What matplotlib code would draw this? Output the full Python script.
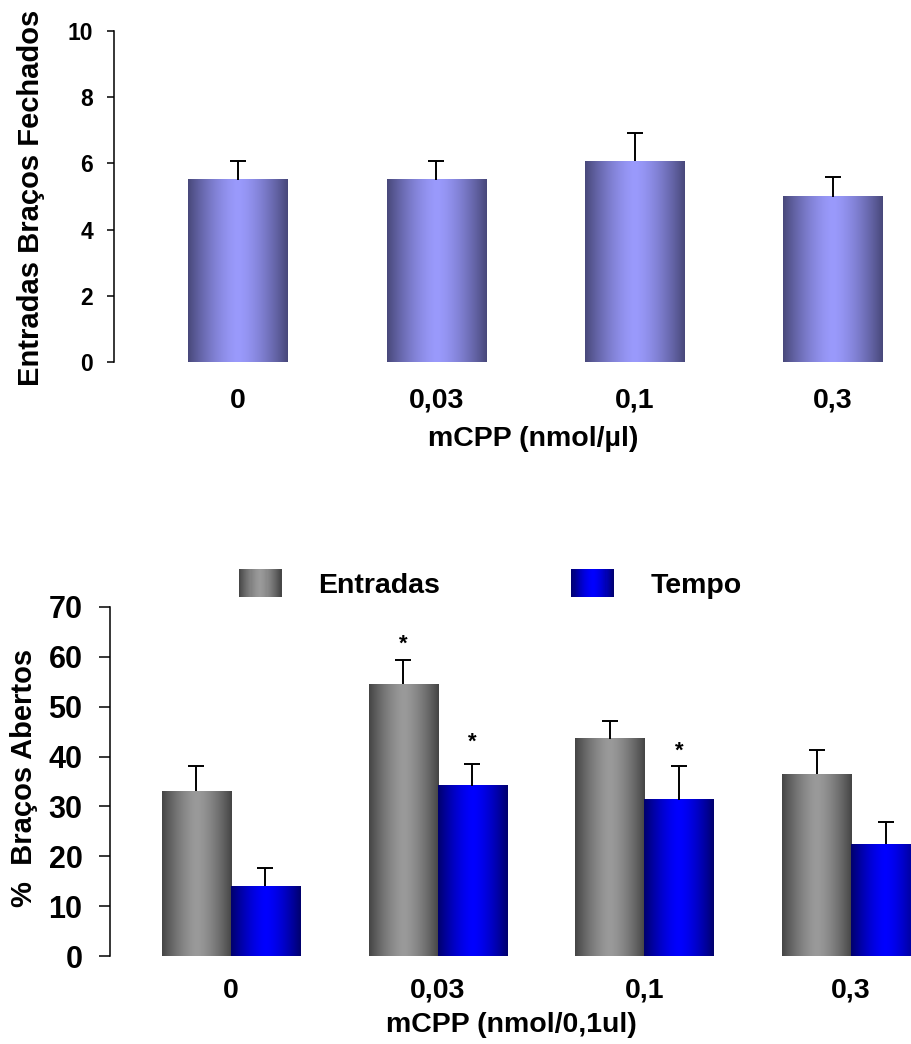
import numpy as np
import matplotlib
matplotlib.use("Agg")
import matplotlib.pyplot as plt
from matplotlib.colors import LinearSegmentedColormap
from matplotlib.legend_handler import HandlerBase
from matplotlib.patches import Rectangle

plt.rcParams['font.family'] = ['Liberation Sans', 'DejaVu Sans']
plt.rcParams['font.weight'] = 'bold'

# ---------------- data ----------------
doses = ["0", "0,03", "0,1", "0,3"]

closed_entries = [5.5, 5.5, 6.07, 5.0]
closed_entries_err = [0.58, 0.58, 0.86, 0.60]

open_entries = [33.0, 54.5, 43.6, 36.5]
open_entries_err = [5.1, 4.8, 3.6, 4.8]
open_time = [14.0, 34.1, 31.3, 22.4]
open_time_err = [3.7, 4.4, 6.8, 4.5]

# significance marks: (group index, series, y level of the asterisk)
star_groups = [1, 1, 2]
star_series = ["Entradas", "Tempo", "Tempo"]
star_levels = [63.8, 44.3, 42.5]

series_names = ["Entradas", "Tempo"]
top_ylabel = "Entradas Braços Fechados"
top_xlabel = "mCPP (nmol/µl)"
bot_ylabel = "%  Braços Abertos"
bot_xlabel = "mCPP (nmol/0,1ul)"


def profile_cmap(dark, light, name):
    t = np.linspace(0, 1, 256)
    f = 1 - np.abs(2 * t - 1) ** 1.5
    d = np.array(dark) / 255.0
    l = np.array(light) / 255.0
    cols = d[None, :] + (l - d)[None, :] * f[:, None]
    return LinearSegmentedColormap.from_list(name, cols)


cmap_purple = profile_cmap((0x48, 0x48, 0x7a), (0x9a, 0x9a, 0xfc), "purp")
cmap_gray = profile_cmap((0x44, 0x44, 0x44), (0x9a, 0x9a, 0x9a), "gry")
cmap_blue = profile_cmap((0x00, 0x00, 0x6c), (0x00, 0x00, 0xff), "blu")

grad_row = np.linspace(0, 1, 256)[None, :]


def gradient_fill(ax, bars, cmap):
    for p in bars.patches:
        x, y = p.get_x(), p.get_y()
        w, h = p.get_width(), p.get_height()
        ax.imshow(grad_row, extent=[x, x + w, y, y + h], aspect='auto',
                  cmap=cmap, interpolation='bilinear', zorder=2.5,
                  clip_on=True)


def upper_errorbars(ax, xs, ys, errs):
    eb = ax.errorbar(xs, ys, yerr=[np.zeros(len(xs)), errs],
                     fmt='none', ecolor='black', elinewidth=1.4, capsize=5.5,
                     capthick=1.4, zorder=3)
    caps = eb[1]
    if len(caps) >= 2:
        caps[0].set_visible(False)  # hide the lower cap
    return eb


class GradHandler(HandlerBase):
    def __init__(self, cmap, n=40):
        super().__init__()
        self.cmap = cmap
        self.n = n

    def create_artists(self, legend, orig_handle, xdescent, ydescent,
                       width, height, fontsize, trans):
        arts = []
        for i in range(self.n):
            r = Rectangle((-xdescent + width * i / self.n, -ydescent),
                          width / self.n * 1.08, height,
                          facecolor=self.cmap((i + 0.5) / self.n),
                          edgecolor='none', transform=trans)
            arts.append(r)
        return arts


W, H = 912, 1044
fig = plt.figure(figsize=(W / 100, H / 100), dpi=100)

# ---------------- top chart ----------------
ax1 = fig.add_axes([114 / W, (H - 362) / H, 786 / W, 331 / H])
x = np.arange(len(doses))
b1 = ax1.bar(x, closed_entries, width=0.5, color='none', zorder=2)
gradient_fill(ax1, b1, cmap_purple)
upper_errorbars(ax1, x, closed_entries, closed_entries_err)
ax1.set_xlim(-0.625, 3.338)
ax1.set_ylim(0, 10)
ax1.set_yticks(np.arange(0, 11, 2))
ax1.set_xticks(x)
ax1.set_xticklabels(doses, fontsize=20.5, fontweight='bold')
for s in ['top', 'right', 'bottom']:
    ax1.spines[s].set_visible(False)
ax1.spines['left'].set_linewidth(1.1)
ax1.tick_params(axis='x', length=0, pad=18.5)
ax1.tick_params(axis='y', length=5.2, width=1.1, pad=10, labelsize=16.5)
ax1.set_ylabel(top_ylabel, fontsize=21, fontweight='bold')
ax1.yaxis.set_label_coords((31.5 - 114) / 786, 0.495)
ax1.yaxis.label.set_verticalalignment('center')
ax1.set_xlabel(top_xlabel, fontsize=20.5, fontweight='bold')
ax1.xaxis.set_label_coords((533 - 114) / 786, (362 - 426) / 331)

# ---------------- bottom chart ----------------
ax2 = fig.add_axes([110 / W, (H - 956) / H, (W - 110) / W, 349 / H])
bw = 0.334
bg = ax2.bar(x - bw / 2, open_entries, width=bw, color='none', zorder=2,
             label=series_names[0])
bb = ax2.bar(x + bw / 2, open_time, width=bw, color='none', zorder=2,
             label=series_names[1])
gradient_fill(ax2, bg, cmap_gray)
gradient_fill(ax2, bb, cmap_blue)
upper_errorbars(ax2, x - bw / 2, open_entries, open_entries_err)
upper_errorbars(ax2, x + bw / 2, open_time, open_time_err)
star_fs = 16
for g, s, lvl in zip(star_groups, star_series, star_levels):
    xs = g - bw / 2 if s == series_names[0] else g + bw / 2
    ax2.annotate('*', xy=(xs, lvl), xytext=(0, -0.55 * star_fs),
                 textcoords='offset points', ha='center', va='baseline',
                 fontsize=star_fs, fontweight='bold', zorder=4)
ax2.set_xlim(-0.585, 3.295)
ax2.set_ylim(0, 70)
ax2.set_yticks(np.arange(0, 71, 10))
ax2.set_xticks(x)
ax2.set_xticklabels(doses, fontsize=20.5, fontweight='bold')
for s in ['top', 'right', 'bottom']:
    ax2.spines[s].set_visible(False)
ax2.spines['left'].set_linewidth(1.1)
ax2.tick_params(axis='x', length=0, pad=15.5)
ax2.tick_params(axis='y', length=7.8, width=1.1, pad=12, labelsize=22)
ax2.set_ylabel(bot_ylabel, fontsize=21, fontweight='bold')
ax2.yaxis.set_label_coords((24 - 110) / 802, 0.51)
ax2.yaxis.label.set_verticalalignment('center')
ax2.set_xlabel(bot_xlabel, fontsize=20.5, fontweight='bold')
ax2.xaxis.set_label_coords((511.5 - 110) / 802, (956 - 1012) / 349)

fs_leg = 20.5
leg = ax2.legend([bg, bb], series_names,
                 handler_map={bg: GradHandler(cmap_gray), bb: GradHandler(cmap_blue)},
                 ncol=2, frameon=False,
                 prop={'weight': 'bold', 'size': fs_leg},
                 handlelength=1.5, handleheight=1.1, handletextpad=1.3,
                 columnspacing=4.6, loc='center',
                 bbox_to_anchor=(490.5 / W, 1 - 584 / H),
                 bbox_transform=fig.transFigure, borderpad=0, borderaxespad=0)

fig.savefig("out.png", dpi=100)
